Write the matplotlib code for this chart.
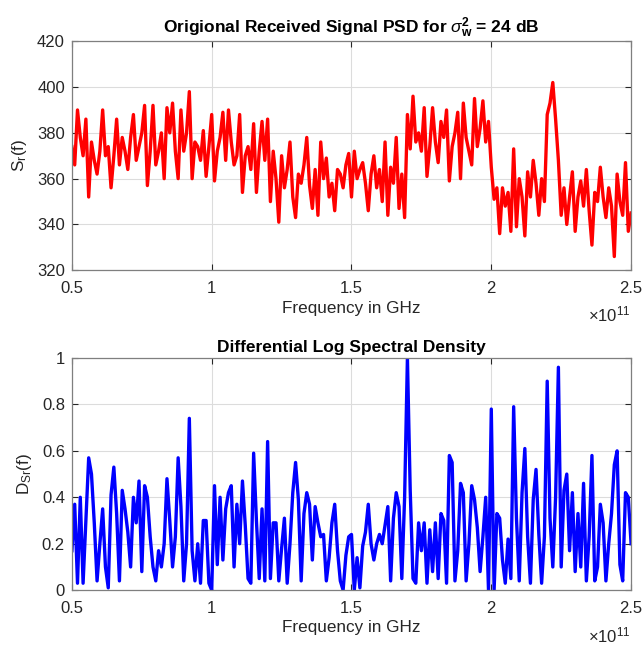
import numpy as np
import matplotlib
matplotlib.use('Agg')
import matplotlib.pyplot as plt
from matplotlib.ticker import FormatStrFormatter

# frequency grid, in units of 1e11
freq = np.round(np.arange(0.50, 2.505, 0.01), 2)

# received PSD
psd = np.array([
    374, 366, 390, 378, 370, 386, 352, 376, 368, 362,
    372, 390, 370, 374, 356, 370, 386, 366, 378, 372,
    364, 378, 388, 368, 374, 380, 392, 357, 372, 392,
    366, 372, 380, 360, 391, 380, 393, 372, 360, 390,
    372, 380, 398, 360, 376, 374, 368, 381, 361, 374,
    388, 359, 372, 378, 389, 368, 390, 376, 366, 370,
    388, 354, 370, 374, 364, 384, 354, 372, 385, 368,
    386, 350, 372, 360, 341, 370, 356, 364, 376, 352,
    343, 362, 358, 366, 378, 357, 347, 364, 344, 376,
    360, 369, 352, 358, 346, 364, 362, 356, 366, 371,
    352, 372, 360, 364, 367, 358, 346, 362, 370, 356,
    364, 350, 376, 344, 365, 358, 378, 347, 362, 343,
    388, 373, 396, 376, 380, 372, 391, 361, 374, 391,
    376, 367, 385, 378, 390, 359, 374, 380, 389, 360,
    393, 378, 372, 366, 395, 374, 382, 394, 376, 385,
    365, 351, 356, 336, 356, 348, 354, 337, 373, 339,
    360, 352, 335, 363, 352, 368, 358, 344, 360, 350,
    388, 393, 402, 386, 368, 344, 356, 340, 352, 363,
    337, 352, 359, 348, 364, 346, 331, 354, 350, 365,
    352, 343, 356, 348, 326, 362, 350, 344, 367, 337,
    345,
])

# differential log spectral density
dlsd = np.array([
    0.17, 0.37, 0.03, 0.40, 0.03, 0.30, 0.57, 0.50, 0.29, 0.04,
    0.20, 0.35, 0.10, 0.01, 0.41, 0.53, 0.33, 0.04, 0.43, 0.35,
    0.25, 0.10, 0.40, 0.29, 0.47, 0.08, 0.45, 0.40, 0.23, 0.10,
    0.04, 0.17, 0.10, 0.20, 0.48, 0.30, 0.10, 0.23, 0.57, 0.36,
    0.04, 0.20, 0.74, 0.17, 0.04, 0.20, 0.03, 0.30, 0.30, 0.03,
    0.00, 0.45, 0.11, 0.40, 0.13, 0.35, 0.42, 0.45, 0.10, 0.37,
    0.20, 0.47, 0.28, 0.05, 0.03, 0.59, 0.30, 0.05, 0.35, 0.04,
    0.64, 0.05, 0.29, 0.29, 0.04, 0.18, 0.31, 0.03, 0.20, 0.42,
    0.55, 0.39, 0.04, 0.33, 0.42, 0.37, 0.13, 0.36, 0.29, 0.23,
    0.24, 0.04, 0.14, 0.29, 0.37, 0.17, 0.04, 0.00, 0.15, 0.23,
    0.24, 0.00, 0.14, 0.01, 0.19, 0.25, 0.37, 0.20, 0.13, 0.20,
    0.24, 0.20, 0.28, 0.36, 0.04, 0.31, 0.42, 0.36, 0.05, 0.40,
    1.00, 0.43, 0.05, 0.03, 0.29, 0.17, 0.29, 0.03, 0.26, 0.08,
    0.29, 0.05, 0.33, 0.30, 0.03, 0.58, 0.55, 0.04, 0.17, 0.46,
    0.42, 0.04, 0.20, 0.45, 0.39, 0.27, 0.08, 0.23, 0.40, 0.00,
    0.78, 0.00, 0.33, 0.31, 0.13, 0.03, 0.22, 0.05, 0.79, 0.31,
    0.04, 0.42, 0.61, 0.23, 0.03, 0.39, 0.52, 0.24, 0.03, 0.23,
    0.90, 0.31, 0.10, 0.40, 0.96, 0.10, 0.43, 0.50, 0.17, 0.42,
    0.08, 0.33, 0.10, 0.46, 0.04, 0.23, 0.58, 0.04, 0.10, 0.37,
    0.29, 0.04, 0.20, 0.33, 0.54, 0.60, 0.11, 0.04, 0.42, 0.40,
    0.20,
])

xticks = [0.5, 1, 1.5, 2, 2.5]

plt.rcParams['font.family'] = ['Liberation Sans', 'DejaVu Sans']
plt.rcParams['mathtext.fontset'] = 'custom'
plt.rcParams['mathtext.rm'] = 'Liberation Sans'
plt.rcParams['mathtext.it'] = 'Liberation Sans:italic'
plt.rcParams['mathtext.bf'] = 'Liberation Sans:bold'

fig = plt.figure(figsize=(6.42, 6.45), dpi=100)
ax1 = fig.add_axes([0.112, 0.581, 0.871, 0.355])
ax2 = fig.add_axes([0.112, 0.085, 0.871, 0.36])

grey = '#262626'

def style(ax, yticks):
    ax.set_xlim(0.5, 2.5)
    ax.set_xticks(xticks)
    ax.set_yticks(yticks)
    ax.set_ylim(yticks[0], yticks[-1])
    ax.xaxis.set_major_formatter(FormatStrFormatter('%g'))
    ax.yaxis.set_major_formatter(FormatStrFormatter('%g'))
    ax.grid(True, color='#dcdcdc', linewidth=0.8)
    ax.set_axisbelow(True)
    ax.tick_params(direction='in', top=True, right=True, length=4,
                   labelsize=12, colors=grey, labelcolor=grey, width=0.8)
    ax.tick_params(axis='x', pad=8)
    ax.tick_params(axis='y', pad=5)
    for s in ax.spines.values():
        s.set_color('#7f7f7f')
        s.set_linewidth(0.9)
    ax.set_xlabel('Frequency in GHz', fontsize=12.3, color=grey, labelpad=3)
    ax.text(1.0, -0.15, r'$\times$10$^{11}$', transform=ax.transAxes,
            ha='right', va='top', fontsize=12, color=grey)

ax1.plot(freq, psd, color='red', linewidth=2.4)
style(ax1, [320, 340, 360, 380, 400, 420])
ax1.set_ylabel(r'S$_\mathregular{r}$(f)', fontsize=12.3, color=grey, labelpad=6)
ax1.set_title(r'Origional Received Signal PSD for $\sigma_{\mathbf{w}}^{\mathbf{2}}$ = 24 dB',
              fontsize=12.5, fontweight='bold', color='black', pad=6)

ax2.plot(freq, dlsd, color='blue', linewidth=2.4)
style(ax2, [0, 0.2, 0.4, 0.6, 0.8, 1.0])
ax2.set_ylabel(r'D$_\mathregular{Sr}$(f)', fontsize=12.3, color=grey, labelpad=6)
ax2.set_title('Differential Log Spectral Density',
              fontsize=12.5, fontweight='bold', color='black', pad=4)

fig.savefig('out.png', dpi=100)
